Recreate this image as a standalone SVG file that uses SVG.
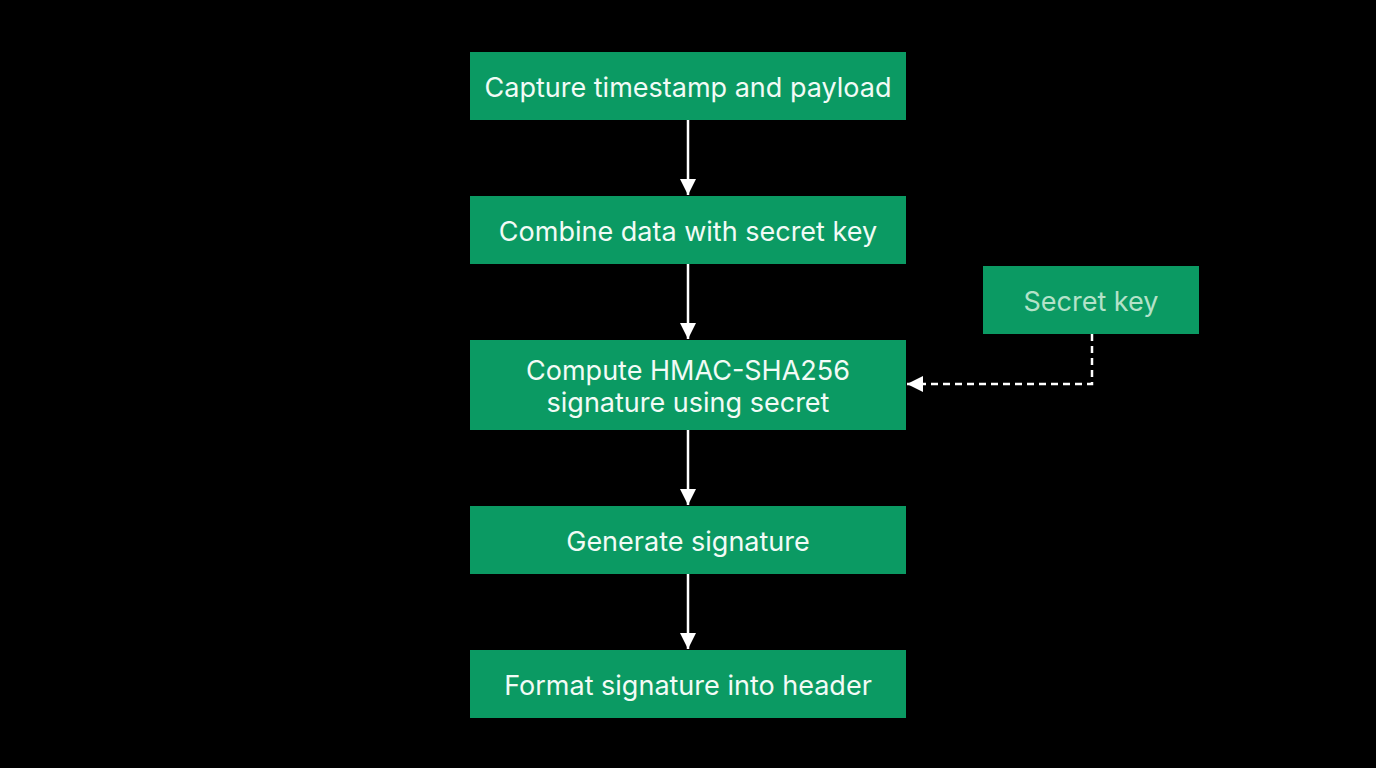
<svg xmlns="http://www.w3.org/2000/svg" width="1376" height="768" viewBox="0 0 1376 768">
<defs>
<style>
.box{fill:#0b9a63}
.t{font-family:Inter,"Noto Sans","Liberation Sans",sans-serif;font-size:27px;fill:#f2fbf6;text-anchor:middle;dominant-baseline:central}
.tk{fill:#b4e2c9}
.c{stroke:#ffffff;stroke-width:2.5;fill:none}
.d{stroke-dasharray:7 5}
</style>
<marker id="ah" viewBox="0 0 10 10" refX="10" refY="5" markerWidth="6.5" markerHeight="6.5" markerUnits="strokeWidth" orient="auto">
<path d="M0,0 L10,5 L0,10 z" fill="#ffffff"/>
</marker>
</defs>
<rect width="1376" height="768" fill="#000000"/>
<g id="connectors">
<line class="c" x1="688" y1="120" x2="688" y2="195" marker-end="url(#ah)"/>
<line class="c" x1="688" y1="264" x2="688" y2="339" marker-end="url(#ah)"/>
<line class="c" x1="688" y1="430" x2="688" y2="505" marker-end="url(#ah)"/>
<line class="c" x1="688" y1="574" x2="688" y2="649" marker-end="url(#ah)"/>
<polyline class="c d" points="1092,334 1092,384 907,384" marker-end="url(#ah)"/>
</g>
<g id="n1"><rect class="box" x="470" y="52" width="436" height="68"/><text class="t" x="688" y="87">Capture timestamp and payload</text></g>
<g id="n2"><rect class="box" x="470" y="196" width="436" height="68"/><text class="t" x="688" y="231">Combine data with secret key</text></g>
<g id="n3"><rect class="box" x="470" y="340" width="436" height="90"/><text class="t" x="688" y="370">Compute HMAC-SHA256</text><text class="t" x="688" y="402">signature using secret</text></g>
<g id="n4"><rect class="box" x="470" y="506" width="436" height="68"/><text class="t" x="688" y="541">Generate signature</text></g>
<g id="n5"><rect class="box" x="470" y="650" width="436" height="68"/><text class="t" x="688" y="685">Format signature into header</text></g>
<g id="secret"><rect class="box" x="983" y="266" width="216" height="68"/><text class="t tk" x="1091" y="301">Secret key</text></g>
</svg>
